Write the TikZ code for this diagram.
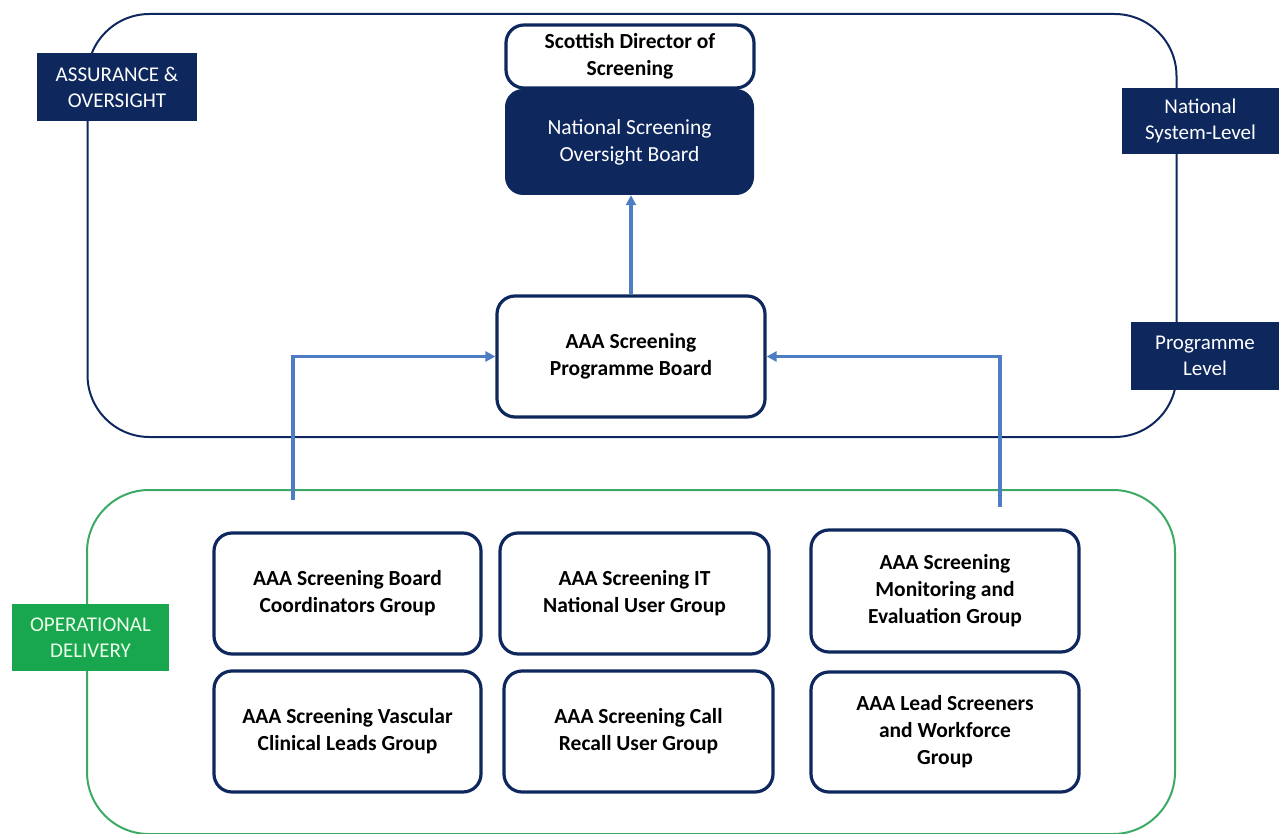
\documentclass[tikz,border=0pt]{standalone}
\usepackage{fontspec}
\setmainfont{Carlito}
\usetikzlibrary{arrows.meta}
\definecolor{navy}{RGB}{14,40,94}
\definecolor{arrowblue}{RGB}{79,125,196}
\definecolor{grn}{RGB}{24,166,78}
\definecolor{grnline}{RGB}{60,170,100}
\begin{document}
\begin{tikzpicture}[x=1pt,y=-1pt,
  box/.style={draw=navy,line width=3.2pt,rounded corners=18pt,fill=white,inner sep=0pt,align=center,
    font=\fontsize{21.5}{27}\selectfont\bfseries,text=black},
  darkbox/.style={fill=navy,rounded corners=18pt,inner sep=0pt,align=center,
    font=\fontsize{21.5}{27}\selectfont,text=white},
  tag/.style={fill=navy,inner sep=0pt,align=center,font=\fontsize{21}{26}\selectfont,text=white},
  gtag/.style={fill=grn,inner sep=0pt,align=center,font=\fontsize{21}{26}\selectfont,text=green!8!white},
  arr/.style={draw=arrowblue,line width=3.2pt,-{Triangle[length=10pt,width=10pt]}}
]
\useasboundingbox (0,0) rectangle (1279,834);
% containers
\node[draw=navy,line width=2pt,rounded corners=62pt,minimum width=1089pt,minimum height=423pt,inner sep=0pt]
  (natcont) at (632,225.5) {};
\node[draw=grnline,line width=2pt,rounded corners=62pt,minimum width=1088pt,minimum height=344pt,inner sep=0pt]
  (opcont) at (631,662) {};
% side tags
\node[tag,minimum width=160pt,minimum height=68pt] (assur) at (117,87) {ASSURANCE \&\\OVERSIGHT};
\node[tag,minimum width=157pt,minimum height=66pt] (natlev) at (1200.5,121) {National\\System-Level};
\node[tag,minimum width=148pt,minimum height=68pt] (proglev) at (1205,356) {Programme\\Level};
\node[gtag,minimum width=157pt,minimum height=67pt] (opdel) at (90.5,637.5) {OPERATIONAL\\DELIVERY};
% top boxes
\node[darkbox,minimum width=249pt,minimum height=106pt] (nsob) at (629.5,142) {National Screening\\Oversight Board};
\node[box,minimum width=248pt,minimum height=63pt] (sdos) at (630,56.5) {Scottish Director of\\Screening};
\node[box,minimum width=268pt,minimum height=121pt] (prog) at (631,356.5) {AAA Screening\\Programme Board};
% operational boxes
\node[box,minimum width=267pt,minimum height=121pt] (g1) at (347.5,593.5) {AAA Screening Board\\Coordinators Group};
\node[box,minimum width=269pt,minimum height=121pt] (g2) at (634.5,593.5) {AAA Screening IT\\National User Group};
\node[box,minimum width=268pt,minimum height=122pt] (g3) at (945,591) {AAA Screening\\Monitoring and\\Evaluation Group};
\node[box,minimum width=267pt,minimum height=121pt] (g4) at (347.5,731.5) {AAA Screening Vascular\\Clinical Leads Group};
\node[box,minimum width=269pt,minimum height=121pt] (g5) at (638.5,731.5) {AAA Screening Call\\Recall User Group};
\node[box,minimum width=268pt,minimum height=120pt] (g6) at (945,732) {AAA Lead Screeners\\and Workforce\\Group};
% connectors
\coordinate (lstart) at (293,500);
\coordinate (rstart) at (1000,507);
\draw[arr] (prog.north) -- (prog.north |- nsob.south);
\draw[arr] (lstart) |- (prog.west);
\draw[arr] (rstart) |- (prog.east);
\end{tikzpicture}
\end{document}
